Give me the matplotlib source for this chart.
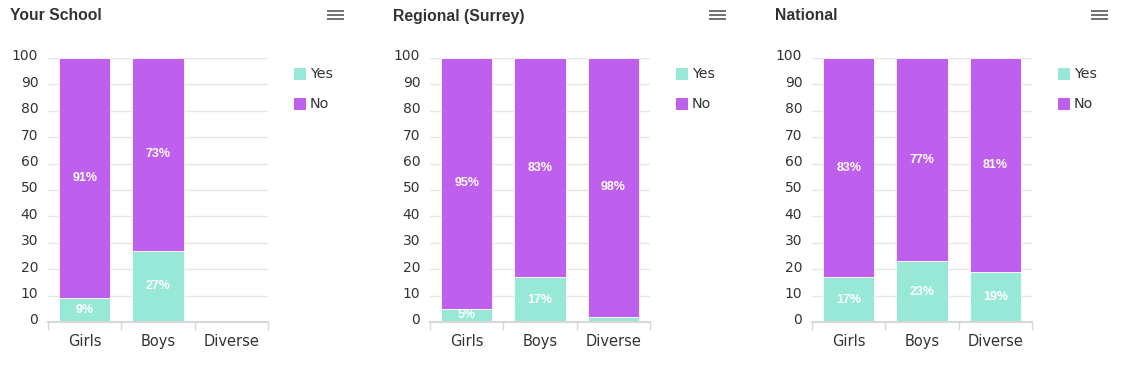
import matplotlib
matplotlib.use("Agg")
import matplotlib.pyplot as plt
from matplotlib.lines import Line2D
from matplotlib.transforms import ScaledTranslation
import numpy as np

W, H = 1121, 369

titles = ["Your School", "Regional (Surrey)", "National"]
categories = ["Girls", "Boys", "Diverse"]
yes_vals = [[9, 27, 0], [5, 17, 2], [17, 23, 19]]
no_vals = [[91, 73, 0], [95, 83, 98], [83, 77, 81]]
yes_labels = [["9%", "27%", ""], ["5%", "17%", ""], ["17%", "23%", "19%"]]
no_labels = [["91%", "73%", ""], ["95%", "83%", "98%"], ["83%", "77%", "81%"]]
legend_names = ["Yes", "No"]
yticks = list(range(0, 101, 10))

YES_C = "#98e8d8"
NO_C = "#bf5fee"
TXT = "#333333"

fig = plt.figure(figsize=(W / 100, H / 100), dpi=100)
fig.patch.set_facecolor("white")

panel_left = [48, 430, 812]
panel_title_x = [10, 393, 775]
menu_x = [328, 710, 1092]
ax_w = 220
top, bottom = 58, 322


def fx(px):
    return px / W


def fy(py):
    return 1 - py / H


for i in range(3):
    ax = fig.add_axes([fx(panel_left[i]), fy(bottom), ax_w / W, (bottom - top) / H])
    x = np.arange(len(categories))
    ax.bar(x, yes_vals[i], width=0.7, color=YES_C, edgecolor="white", linewidth=0.6, zorder=3)
    ax.bar(x, no_vals[i], width=0.7, bottom=yes_vals[i], color=NO_C, edgecolor="white",
           linewidth=0.6, zorder=3)
    for j in range(len(categories)):
        if yes_labels[i][j]:
            ax.text(x[j], yes_vals[i][j] / 2, yes_labels[i][j], ha="center", va="center",
                    color="white", fontsize=9, fontweight="bold", family="Liberation Sans", zorder=4)
        if no_labels[i][j]:
            ax.text(x[j], yes_vals[i][j] + no_vals[i][j] / 2, no_labels[i][j], ha="center",
                    va="center", color="white", fontsize=9, fontweight="bold",
                    family="Liberation Sans", zorder=4)
    ax.set_xlim(-0.5, 2.5)
    ax.set_ylim(0, 100)
    ax.set_yticks(yticks)
    ax.set_yticklabels([str(v) for v in yticks], fontsize=10, color=TXT)
    ax.tick_params(axis="y", length=0, pad=7)
    shift = ScaledTranslation(0, 0.03, fig.dpi_scale_trans)
    for lab in ax.get_yticklabels():
        lab.set_transform(lab.get_transform() + shift)
    ax.set_xticks(x)
    ax.set_xticklabels(categories, fontsize=10.5, color=TXT)
    ax.tick_params(axis="x", which="major", length=0, pad=8.5)
    ax.set_xticks([-0.5, 0.5, 1.5, 2.5], minor=True)
    ax.tick_params(axis="x", which="minor", length=6, width=1, color="#d8d8d8", direction="out")
    ax.grid(axis="y", color="#e6e6e6", linewidth=1, zorder=0)
    ax.set_axisbelow(True)
    for s in ["left", "right", "top"]:
        ax.spines[s].set_visible(False)
    ax.spines["bottom"].set_color("#d8d8d8")
    ax.spines["bottom"].set_linewidth(1.5)
    ax.spines["bottom"].set_zorder(5)

    # title
    fig.text(fx(panel_title_x[i]), fy(16), titles[i], ha="left", va="center", fontsize=11.3,
             fontweight="bold", color=TXT, family="Liberation Sans")
    # menu icon
    for yy in [11, 15, 19]:
        fig.add_artist(Line2D([fx(menu_x[i]), fx(menu_x[i] + 15)], [fy(yy), fy(yy)],
                              color="#707070", linewidth=1.4))
    # legend
    lx = panel_left[i] + 246
    for k, (name, col) in enumerate(zip(legend_names, [YES_C, NO_C])):
        yy = 74 + 30 * k
        fig.patches.append(plt.Rectangle((fx(lx), fy(yy + 6)), 12 / W, 12 / H,
                                         transform=fig.transFigure, facecolor=col,
                                         edgecolor="none"))
        fig.text(fx(lx + 16), fy(yy + 0.5), name, ha="left", va="center", fontsize=10.3, color=TXT)

fig.savefig("out.png", dpi=100)
